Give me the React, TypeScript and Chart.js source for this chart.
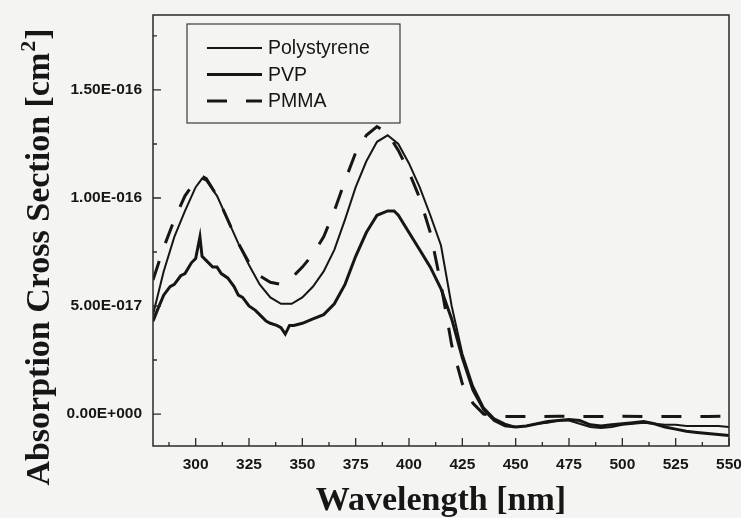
import React, { useEffect, useRef } from "react";
import { Chart, registerables } from "chart.js";
Chart.register(...registerables);

const UNIT = 1e-17;

const psWavelengths = [280, 285, 290, 295, 300, 303, 305, 310, 315, 320, 325, 330, 335, 340, 345, 350, 355, 360, 365, 370, 375, 380, 385, 390, 395, 400, 405, 410, 415, 420, 425, 430, 435, 440, 445, 450, 455, 460, 465, 470, 475, 480, 485, 490, 495, 500, 505, 510, 515, 520, 525, 530, 535, 540, 545, 550];
const polystyrene = [4.6, 6.6, 8.2, 9.4, 10.5, 10.9, 10.8, 10.1, 9.0, 7.9, 6.9, 6.0, 5.4, 5.1, 5.1, 5.4, 5.9, 6.6, 7.6, 9.0, 10.5, 11.7, 12.6, 12.9, 12.5, 11.6, 10.5, 9.2, 7.8, 5.0, 2.8, 1.3, 0.3, -0.2, -0.45, -0.6, -0.55, -0.45, -0.4, -0.3, -0.3, -0.45, -0.6, -0.65, -0.6, -0.5, -0.45, -0.4, -0.45, -0.5, -0.5, -0.55, -0.55, -0.55, -0.55, -0.6];

const pvpWavelengths = [280, 282, 285, 288, 290, 293, 295, 298, 300, 302, 303, 305, 308, 310, 312, 315, 318, 320, 322, 325, 328, 330, 333, 335, 338, 340, 342, 344, 346, 350, 355, 360, 365, 370, 375, 380, 385, 390, 393, 395, 400, 405, 410, 415, 420, 425, 430, 435, 440, 445, 450, 455, 460, 465, 470, 475, 480, 485, 490, 495, 500, 505, 510, 515, 520, 525, 530, 535, 540, 545, 550];
const pvp = [4.3, 4.8, 5.5, 5.9, 6.0, 6.4, 6.5, 7.0, 7.2, 8.2, 7.3, 7.1, 6.8, 6.8, 6.5, 6.3, 5.9, 5.5, 5.4, 5.0, 4.8, 4.6, 4.3, 4.2, 4.1, 4.0, 3.7, 4.1, 4.1, 4.2, 4.4, 4.6, 5.1, 6.0, 7.3, 8.4, 9.2, 9.4, 9.4, 9.2, 8.4, 7.6, 6.8, 5.8, 4.4, 2.6, 1.1, 0.2, -0.3, -0.55, -0.6, -0.55, -0.45, -0.35, -0.3, -0.25, -0.3, -0.5, -0.55, -0.5, -0.45, -0.4, -0.35, -0.45, -0.6, -0.7, -0.8, -0.85, -0.9, -0.95, -1.0];

const pmmaWavelengths = [280, 285, 290, 295, 300, 303, 305, 310, 315, 320, 325, 330, 335, 340, 345, 350, 355, 360, 365, 370, 375, 380, 385, 390, 395, 400, 405, 410, 415, 420, 425, 430, 435, 440, 450, 460, 470, 480, 490, 500, 510, 520, 530, 540, 550];
const pmma = [6.2, 7.7, 9.0, 10.1, 10.8, 11.0, 10.9, 10.1, 9.0, 7.9, 7.0, 6.4, 6.1, 6.0, 6.3, 6.8, 7.4, 8.2, 9.4, 10.8, 12.1, 12.9, 13.3, 13.0, 12.2, 11.2, 10.0, 8.4, 6.0, 3.2, 1.4, 0.5, 0.0, -0.1, -0.12, -0.12, -0.1, -0.12, -0.12, -0.1, -0.12, -0.12, -0.12, -0.12, -0.1];

const seriesLabels = ["Polystyrene", "PVP", "PMMA"];

const xMin = 280;
const xMax = 550;
const yMin = -1.48e-17;
const yMax = 1.847e-16;

const xTickValues = [300, 325, 350, 375, 400, 425, 450, 475, 500, 525, 550];
const xMinorValues = [287.5, 312.5, 337.5, 362.5, 387.5, 412.5, 437.5, 462.5, 487.5, 512.5, 537.5];
const yTickValues = [0, 5e-17, 1e-16, 1.5e-16];
const yTickLabels = ["0.00E+000", "5.00E-017", "1.00E-016", "1.50E-016"];
const yMinorValues = [2.5e-17, 7.5e-17, 1.25e-16, 1.75e-16];

const xTitle = "Wavelength [nm]";
const yTitleMain = "Absorption Cross Section [cm";
const yTitleSup = "2";
const yTitleEnd = "]";

const INK = "#161616";
const BG = "#f4f4f2";

function toPoints(xs: number[], ys: number[]) {
  return xs.map((x, i) => ({ x, y: ys[i] * UNIT }));
}

const decorPlugin = {
  id: "decor",
  beforeDraw(chart: any) {
    const ctx = chart.ctx;
    ctx.save();
    ctx.fillStyle = BG;
    ctx.fillRect(0, 0, chart.width, chart.height);
    ctx.restore();
  },
  afterDraw(chart: any) {
    const ctx = chart.ctx;
    const a = chart.chartArea;
    const xs = chart.scales.x;
    const ys = chart.scales.y;
    ctx.save();
    // frame
    ctx.strokeStyle = "#2a2a2a";
    ctx.lineWidth = 1.5;
    ctx.strokeRect(a.left, a.top, a.right - a.left, a.bottom - a.top);
    // ticks (inward)
    ctx.lineWidth = 1.3;
    ctx.beginPath();
    xTickValues.forEach((v) => {
      const px = xs.getPixelForValue(v);
      ctx.moveTo(px, a.bottom);
      ctx.lineTo(px, a.bottom - 8);
    });
    xMinorValues.forEach((v) => {
      const px = xs.getPixelForValue(v);
      ctx.moveTo(px, a.bottom);
      ctx.lineTo(px, a.bottom - 4);
    });
    yTickValues.forEach((v) => {
      const py = ys.getPixelForValue(v);
      ctx.moveTo(a.left, py);
      ctx.lineTo(a.left + 8, py);
    });
    yMinorValues.forEach((v) => {
      const py = ys.getPixelForValue(v);
      ctx.moveTo(a.left, py);
      ctx.lineTo(a.left + 4, py);
    });
    ctx.stroke();

    // legend
    const lx = a.left + 34;
    const ly = a.top + 9;
    const lw = 213;
    const lh = 99;
    ctx.fillStyle = BG;
    ctx.fillRect(lx, ly, lw, lh);
    ctx.strokeStyle = "#3a3a3a";
    ctx.lineWidth = 1.2;
    ctx.strokeRect(lx, ly, lw, lh);
    ctx.font = "19.5px 'Liberation Sans', Arial, sans-serif";
    ctx.textBaseline = "middle";
    ctx.textAlign = "left";
    chart.data.datasets.forEach((ds: any, i: number) => {
      const rowY = ly + 24 + i * 26.5;
      ctx.strokeStyle = INK;
      ctx.lineWidth = ds.borderWidth;
      ctx.setLineDash(ds.borderDash || []);
      ctx.beginPath();
      ctx.moveTo(lx + 20, rowY);
      ctx.lineTo(lx + 75, rowY);
      ctx.stroke();
      ctx.setLineDash([]);
      ctx.fillStyle = INK;
      ctx.fillText(ds.label, lx + 81, rowY + 1);
    });

    // axis titles
    ctx.fillStyle = INK;
    ctx.font = "bold 34px 'Liberation Serif', 'Times New Roman', serif";
    ctx.textAlign = "center";
    ctx.textBaseline = "alphabetic";
    ctx.fillText(xTitle, (a.left + a.right) / 2, 510);

    ctx.translate(49, 257);
    ctx.rotate(-Math.PI / 2);
    const mainFont = "bold 34px 'Liberation Serif', 'Times New Roman', serif";
    const supFont = "bold 22px 'Liberation Serif', 'Times New Roman', serif";
    ctx.font = mainFont;
    const w1 = ctx.measureText(yTitleMain).width;
    const w3 = ctx.measureText(yTitleEnd).width;
    ctx.font = supFont;
    const w2 = ctx.measureText(yTitleSup).width;
    const total = w1 + w2 + w3 + 2;
    let cx = -total / 2;
    ctx.textAlign = "left";
    ctx.font = mainFont;
    ctx.fillText(yTitleMain, cx, 0);
    cx += w1 + 1;
    ctx.font = supFont;
    ctx.fillText(yTitleSup, cx, -14);
    cx += w2 + 1;
    ctx.font = mainFont;
    ctx.fillText(yTitleEnd, cx, 0);
    ctx.restore();
  },
};

export default function App() {
  const canvasRef = useRef<HTMLCanvasElement | null>(null);

  useEffect(() => {
    document.body.style.margin = "0";
    const canvas = canvasRef.current;
    if (!canvas) return;
    const tickFont = { family: "'Liberation Sans', Arial, sans-serif", size: 15.5, weight: "bold" as const };
    const chart = new Chart(canvas, {
      type: "line",
      data: {
        datasets: [
          {
            label: seriesLabels[0],
            data: toPoints(psWavelengths, polystyrene),
            borderColor: INK,
            borderWidth: 2,
            pointRadius: 0,
            tension: 0,
            fill: false,
          },
          {
            label: seriesLabels[1],
            data: toPoints(pvpWavelengths, pvp),
            borderColor: INK,
            borderWidth: 3,
            pointRadius: 0,
            tension: 0,
            fill: false,
          },
          {
            label: seriesLabels[2],
            data: toPoints(pmmaWavelengths, pmma),
            borderColor: INK,
            borderWidth: 3,
            borderDash: [20, 19],
            pointRadius: 0,
            tension: 0,
            fill: false,
          },
        ],
      },
      options: {
        animation: false,
        responsive: false,
        devicePixelRatio: 1,
        layout: { padding: { top: 15, right: 12, left: 0, bottom: 0 } },
        plugins: { legend: { display: false }, tooltip: { enabled: false }, title: { display: false } },
        scales: {
          x: {
            type: "linear",
            min: xMin,
            max: xMax,
            grid: { display: false, drawTicks: false },
            border: { display: false },
            afterBuildTicks: (s: any) => {
              s.ticks = xTickValues.map((v) => ({ value: v }));
            },
            afterFit: (s: any) => {
              s.height = 72;
              s.paddingLeft = 0;
              s.paddingRight = 0;
            },
            ticks: {
              color: INK,
              font: tickFont,
              padding: 9,
              maxRotation: 0,
              autoSkip: false,
              callback: (v: any) => String(v),
            },
          },
          y: {
            type: "linear",
            min: yMin,
            max: yMax,
            grid: { display: false, drawTicks: false },
            border: { display: false },
            afterBuildTicks: (s: any) => {
              s.ticks = yTickValues.map((v) => ({ value: v }));
            },
            afterFit: (s: any) => {
              s.width = 153;
              s.paddingTop = 0;
              s.paddingBottom = 0;
            },
            ticks: {
              color: INK,
              font: tickFont,
              padding: 11,
              autoSkip: false,
              callback: (_v: any, i: number) => yTickLabels[i],
            },
          },
        },
      },
      plugins: [decorPlugin],
    });
    return () => chart.destroy();
  }, []);

  return (
    <div style={{ width: 741, height: 518 }}>
      <canvas ref={canvasRef} width={741} height={518} style={{ display: "block", width: 741, height: 518 }} />
    </div>
  );
}
